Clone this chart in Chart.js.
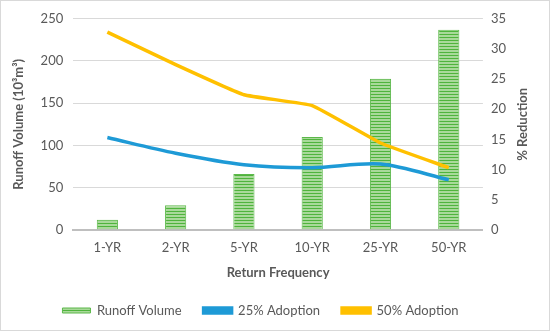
<!DOCTYPE html>
<html>
<head>
<meta charset="utf-8">
<script src="https://cdn.jsdelivr.net/npm/chart.js@4"></script>
<style>
    html, body { margin: 0; padding: 0; background: #fff; }
    #wrap { width: 548px; height: 329px; border: 1px solid #d9d9d9; position: relative; }
</style>
</head>
<body>
<div id="wrap"><canvas id="chart"></canvas></div>
<script>
const categories = ['1-YR', '2-YR', '5-YR', '10-YR', '25-YR', '50-YR'];
const runoffVolume = [12, 29, 66, 110, 179, 237];
const adoption25 = [15.3, 12.7, 10.8, 10.3, 10.9, 8.3];
const adoption50 = [32.8, 27.4, 22.4, 20.6, 14.4, 10.3];
const leftTicks = [0, 50, 100, 150, 200, 250];

function makeStripes() {
    const c = document.createElement('canvas');
    c.width = 4;
    c.height = 3;
    const g = c.getContext('2d');
    g.fillStyle = '#a9d99a';
    g.fillRect(0, 0, 4, 3);
    g.fillStyle = '#4fb43c';
    g.fillRect(0, 0, 4, 1);
    return g.createPattern(c, 'repeat');
}

const stripes = makeStripes();
const textColor = '#595959';
const fontFamily = 'Lato, "Open Sans", sans-serif';

// right axis title reads bottom to top, like the left one
const rightTitle = {
    id: 'rightTitle',
    afterDraw(chart) {
        const ctx = chart.ctx;
        const area = chart.chartArea;
        ctx.save();
        ctx.translate(chart.width - 26, (area.top + area.bottom) / 2);
        ctx.rotate(-Math.PI / 2);
        ctx.fillStyle = textColor;
        ctx.font = 'bold 13px ' + fontFamily;
        ctx.textAlign = 'center';
        ctx.textBaseline = 'middle';
        ctx.fillText('% Reduction', 0, 0);
        ctx.restore();
    }
};

new Chart(document.getElementById('chart'), {
    data: {
        labels: categories,
        datasets: [{
            type: 'line',
            label: '25% Adoption',
            data: adoption25,
            yAxisID: 'y1',
            borderColor: '#1e9ad6',
            backgroundColor: '#1e9ad6',
            borderWidth: 3.5,
            pointRadius: 0,
            tension: 0.3,
            order: 1
        }, {
            type: 'line',
            label: '50% Adoption',
            data: adoption50,
            yAxisID: 'y1',
            borderColor: '#ffc000',
            backgroundColor: '#ffc000',
            borderWidth: 3.5,
            pointRadius: 0,
            tension: 0.1,
            order: 0
        }, {
            type: 'bar',
            label: 'Runoff Volume',
            data: runoffVolume,
            yAxisID: 'y',
            backgroundColor: stripes,
            borderColor: '#5cb84a',
            borderWidth: 1,
            barPercentage: 0.31,
            categoryPercentage: 1,
            order: 2
        }]
    },
    options: {
        responsive: true,
        maintainAspectRatio: false,
        animation: false,
        layout: { padding: { left: 6, right: 35, top: 15, bottom: 3 } },
        plugins: {
            legend: {
                position: 'bottom',
                labels: {
                    color: textColor,
                    font: { family: fontFamily, size: 13 },
                    boxWidth: 28,
                    boxHeight: 5,
                    padding: 22,
                    sort: (a, b) => (a.text === 'Runoff Volume' ? -1 : b.text === 'Runoff Volume' ? 1 : a.datasetIndex - b.datasetIndex)
                }
            },
            tooltip: { enabled: false }
        },
        scales: {
            x: {
                grid: { display: false, drawTicks: false },
                border: { color: '#bfbfbf', width: 2 },
                ticks: { color: textColor, font: { family: fontFamily, size: 13 }, padding: 10 },
                title: { display: true, text: 'Return Frequency', color: textColor, font: { family: fontFamily, size: 13, weight: 'bold' }, padding: { top: 0, bottom: 1 } }
            },
            y: {
                position: 'left',
                min: 0,
                max: 250,
                afterBuildTicks: axis => { axis.ticks = leftTicks.map(v => ({ value: v })); },
                grid: { color: '#d9d9d9', drawTicks: false },
                border: { display: false },
                ticks: { color: textColor, font: { family: fontFamily, size: 13 }, padding: 10 },
                title: { display: true, text: 'Runoff Volume (10³m³)', color: textColor, font: { family: fontFamily, size: 13, weight: 'bold' } }
            },
            y1: {
                position: 'right',
                min: 0,
                max: 35,
                ticks: { stepSize: 5, color: textColor, font: { family: fontFamily, size: 13 }, padding: 8 },
                grid: { display: false, drawTicks: false },
                border: { display: false }
            }
        }
    },
    plugins: [rightTitle]
});
</script>
</body>
</html>
